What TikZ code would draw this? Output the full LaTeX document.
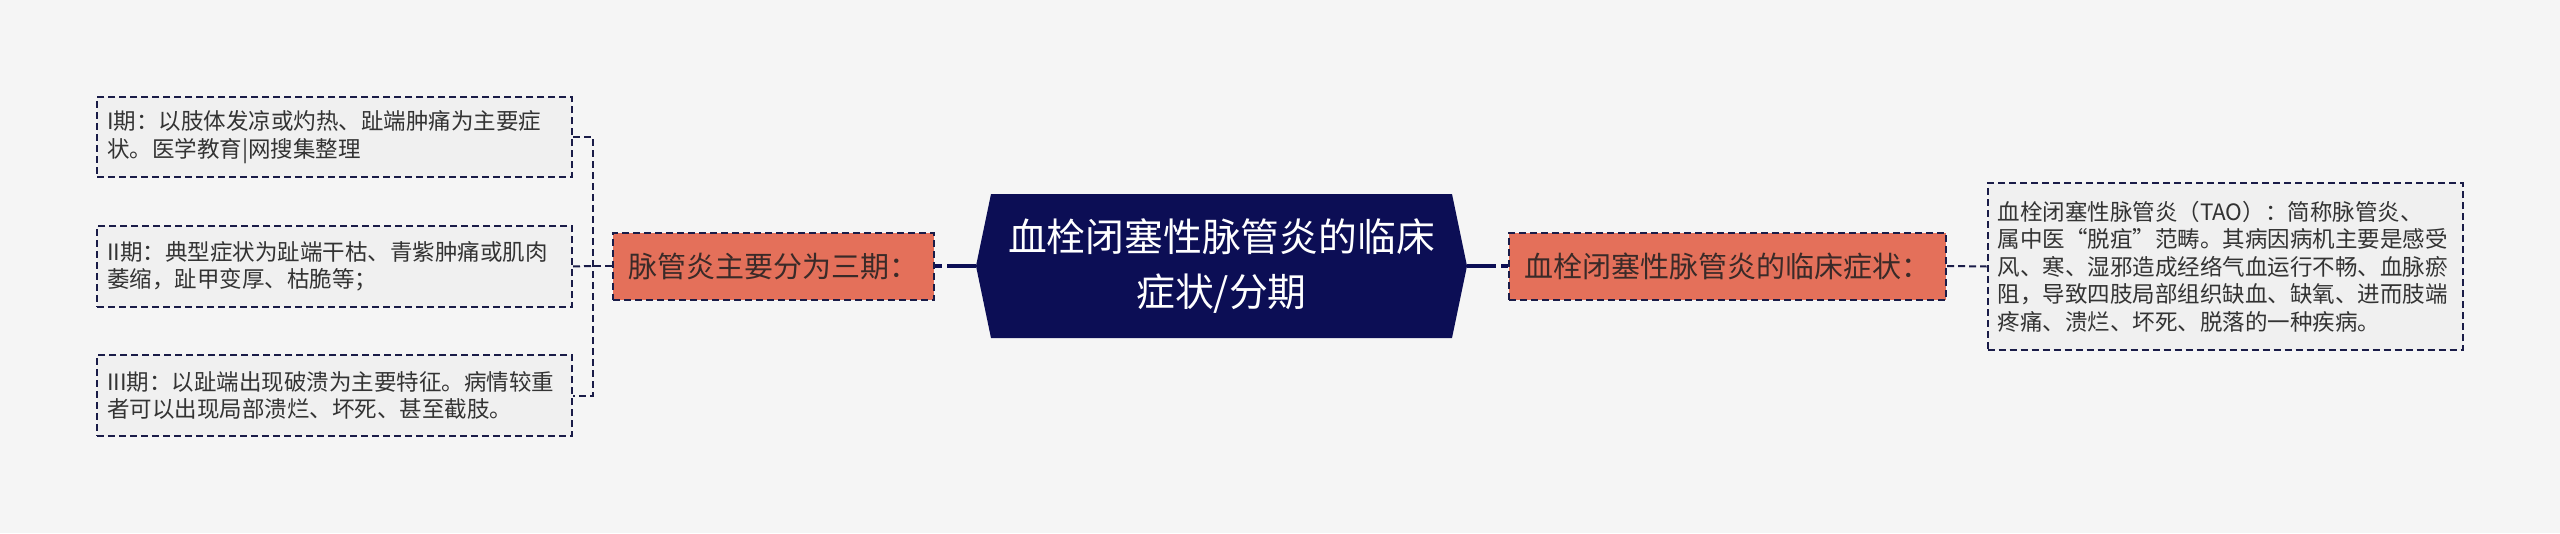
\documentclass[tikz,border=0pt]{standalone}
\usepackage{fontspec}
\newfontfamily\cjk{Noto Sans CJK SC}
\definecolor{bgcol}{HTML}{F5F5F5}
\definecolor{leafcol}{HTML}{F0F0F0}
\definecolor{navy}{HTML}{0C0E55}
\definecolor{orangecol}{HTML}{E4705A}
\definecolor{linecol}{HTML}{1A1C48}
\definecolor{textcol}{HTML}{333333}
\definecolor{branchtext}{HTML}{3A2A28}
\begin{document}
\begin{tikzpicture}[x=1pt,y=-1pt,
        link/.style={draw=linecol,line width=2pt,dash pattern=on 7pt off 4pt},
        trunk/.style={draw=navy,line width=3.5pt,dash pattern=on 29pt off 5pt},
        leaf/.style={draw=linecol,fill=leafcol,line width=2pt,dash pattern=on 7pt off 4pt,
            font=\cjk\fontsize{22.5}{27.5}\selectfont,text=textcol,align=left,
            text width=455pt,inner xsep=10pt,inner ysep=0pt},
        branch/.style={draw=linecol,fill=orangecol,line width=2pt,dash pattern=on 7pt off 4pt,
            font=\cjk\fontsize{29}{35}\selectfont,text=branchtext,minimum height=67pt,inner sep=0pt},
        topic/.style={font=\cjk\fontsize{38.8}{55}\selectfont,text=white,align=center,
            minimum width=461pt,minimum height=144pt,inner sep=0pt}]
    \useasboundingbox[fill=bgcol] (0,0) rectangle (2560,533);
    \fill[navy] (976,266) -- (991,194) -- (1452,194) -- (1467,266) -- (1452,338) -- (991,338) -- cycle;
    \node[topic] (topic) at (1221.5,266) {血栓闭塞性脉管炎的临床\\症状/分期};
    \coordinate (topicW) at (976,266);
    \coordinate (topicE) at (1467,266);
    \node[branch,minimum width=321pt] (stages) at (773.5,266) {脉管炎主要分为三期：};
    \node[branch,minimum width=437pt] (clinic) at (1727.5,266) {血栓闭塞性脉管炎的临床症状：};
    \node[leaf,minimum height=80pt] (stageI) at (334.5,137) {I期：以肢体发凉或灼热、趾端肿痛为主要症\\状。医学教育|网搜集整理};
    \node[leaf,minimum height=81pt] (stageII) at (334.5,266.5) {II期：典型症状为趾端干枯、青紫肿痛或肌肉\\萎缩，趾甲变厚、枯脆等；};
    \node[leaf,minimum height=81pt] (stageIII) at (334.5,395.5) {III期：以趾端出现破溃为主要特征。病情较重\\者可以出现局部溃烂、坏死、甚至截肢。};
    \node[leaf,minimum height=167pt] (clinicText) at (2225,266.5) {血栓闭塞性脉管炎（TAO）：简称脉管炎、\\属中医“脱疽”范畴。其病因病机主要是感受\\风、寒、湿邪造成经络气血运行不畅、血脉瘀\\阻，导致四肢局部组织缺血、缺氧、进而肢端\\疼痛、溃烂、坏死、脱落的一种疾病。};
    \coordinate (fork) at (593,266);
    \draw[trunk] (topicW) -- (stages.east);
    \draw[trunk] (topicE) -- (clinic.west);
    \draw[link] (stages.west) -- (fork);
    \draw[link] (stageI.east) -| (fork) |- (stageIII.east);
    \draw[link] (stageII.east) -- (fork);
    \draw[link] (clinic.east) -- (clinicText.west);
\end{tikzpicture}
\end{document}
